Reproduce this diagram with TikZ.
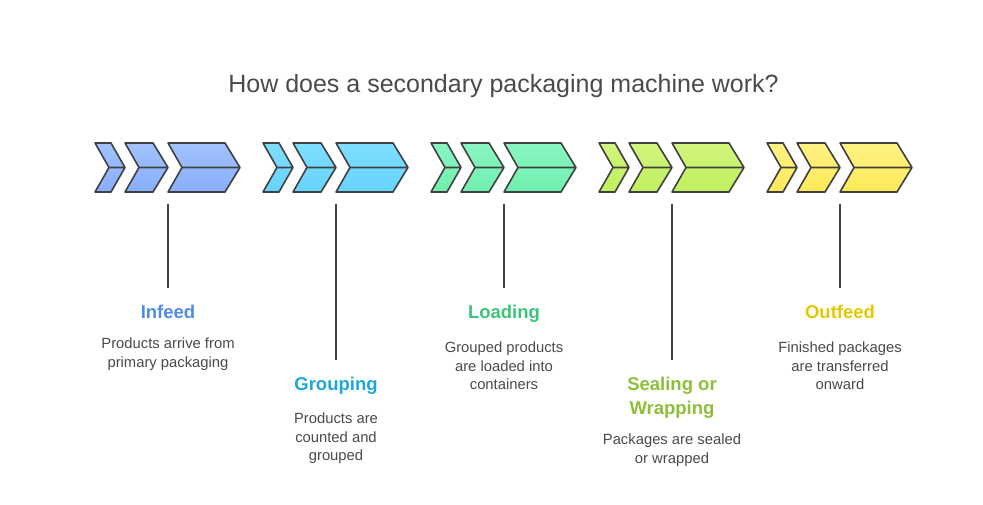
\documentclass[tikz,border=0pt]{standalone}
\usepackage{fontspec}
\setmainfont{Liberation Sans}
\usetikzlibrary{positioning}

\definecolor{edge}{HTML}{404040}
\definecolor{txt}{HTML}{4A4A4A}
\definecolor{blueA}{HTML}{A2C2FF}\definecolor{blueB}{HTML}{88AEFA}
\definecolor{cyanA}{HTML}{7FDEFF}\definecolor{cyanB}{HTML}{66D3FF}
\definecolor{greenA}{HTML}{8AF5C2}\definecolor{greenB}{HTML}{70EFAE}
\definecolor{limeA}{HTML}{D2F57E}\definecolor{limeB}{HTML}{BFEF5E}
\definecolor{yellA}{HTML}{FFF285}\definecolor{yellB}{HTML}{FFE957}
\definecolor{headA}{HTML}{4F8BE8}
\definecolor{headB}{HTML}{1CA9DA}
\definecolor{headC}{HTML}{3CC47C}
\definecolor{headD}{HTML}{8CBF3A}
\definecolor{headE}{HTML}{E3C800}

\tikzset{
  chev/.style={draw=edge, line width=1.6pt, line join=round},
  stem/.style={draw=edge, line width=1.6pt, shorten >=17pt},
  head/.style={font=\fontsize{18.5}{24}\selectfont\bfseries, align=center, anchor=north, inner sep=0pt},
  desc/.style={font=\fontsize{14.8}{18.5}\selectfont, text=txt, align=center, anchor=north, inner sep=0pt}
}

% three chevrons of one step, #1 = left x, #2/#3 = shading colours
\newcommand{\chevrons}[3]{%
  \begin{scope}[xshift=#1pt]
    \path[chev, top color=#2, bottom color=#3]
      (0,143) -- (16,143) -- (30,167.5) -- (16,192) -- (0,192) -- (14,167.5) -- cycle
      (14,167.5) -- (30,167.5);
    \path[chev, top color=#2, bottom color=#3]
      (30,143) -- (58,143) -- (73,167.5) -- (58,192) -- (30,192) -- (44,167.5) -- cycle
      (44,167.5) -- (73,167.5);
    \path[chev, top color=#2, bottom color=#3]
      (73,143) -- (130,143) -- (145,167.5) -- (130,192) -- (73,192) -- (87,167.5) -- cycle
      (87,167.5) -- (145,167.5);
  \end{scope}}

\begin{document}
\begin{tikzpicture}[x=1pt, y=-1pt]
  \useasboundingbox (0,0) rectangle (983,505);

  \node[font=\fontsize{25}{29}\selectfont, text=txt] (title) at (503.5,86) {How does a secondary packaging machine work?};

  \chevrons{95}{blueA}{blueB}
  \chevrons{263}{cyanA}{cyanB}
  \chevrons{431}{greenA}{greenB}
  \chevrons{599}{limeA}{limeB}
  \chevrons{767}{yellA}{yellB}

  \coordinate (s1) at (168,204);
  \coordinate (s2) at (336,204);
  \coordinate (s3) at (504,204);
  \coordinate (s4) at (672,204);
  \coordinate (s5) at (840,204);

  \node[head, text=headA] (infeed) at (168,305) {Infeed};
  \node[desc] (infeedtxt) at (168,338) {Products arrive from\\primary packaging};

  \node[head, text=headB] (grouping) at (336,377) {Grouping};
  \node[desc] (groupingtxt) at (336,413) {Products are\\counted and\\grouped};

  \node[head, text=headC] (loading) at (504,305) {Loading};
  \node[desc] (loadingtxt) at (504,342) {Grouped products\\are loaded into\\containers};

  \node[head, text=headD] (sealing) at (672,377) {Sealing or\\Wrapping};
  \node[desc] (sealingtxt) at (672,434) {Packages are sealed\\or wrapped};

  \node[head, text=headE] (outfeed) at (840,305) {Outfeed};
  \node[desc] (outfeedtxt) at (840,342) {Finished packages\\are transferred\\onward};

  \draw[stem] (s1) -- (infeed.north);
  \draw[stem] (s2) -- (grouping.north);
  \draw[stem] (s3) -- (loading.north);
  \draw[stem] (s4) -- (sealing.north);
  \draw[stem] (s5) -- (outfeed.north);
\end{tikzpicture}
\end{document}
